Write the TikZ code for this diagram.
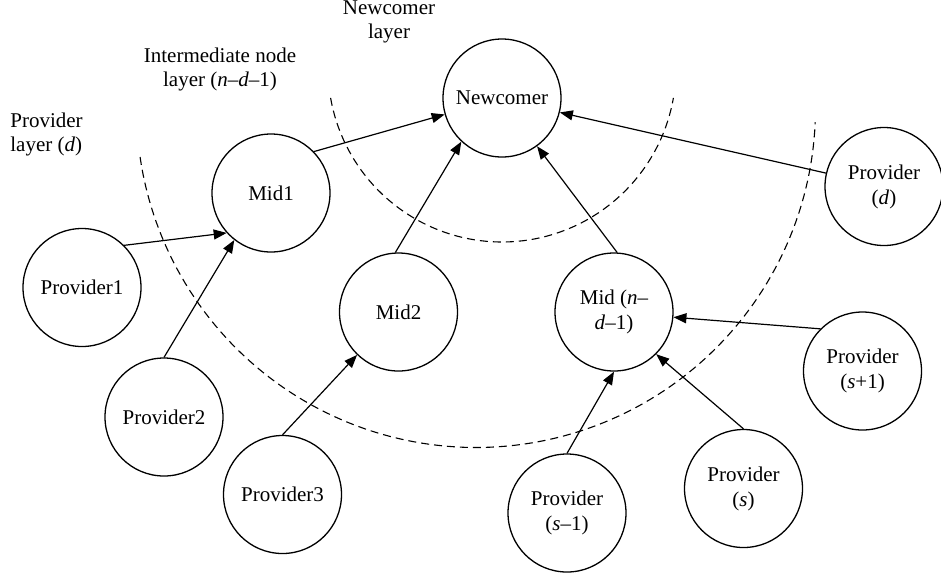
\documentclass[tikz,border=0pt]{standalone}
\usepackage{fontspec}
\setmainfont{Liberation Serif}
\usetikzlibrary{arrows.meta}
\begin{document}
\begin{tikzpicture}[x=0.5pt,y=-0.5pt,
  txt/.style={font=\fontsize{10.5}{12}\selectfont, align=center, inner sep=0pt},
  circ/.style={circle, draw, line width=0.65pt, minimum size=59pt, inner sep=0pt,
    font=\fontsize{10.5}{12.5}\selectfont, align=center},
  conn/.style={line width=0.6pt, -{Triangle[length=6.5pt,width=5pt]}},
  layer/.style={line width=0.55pt, dash pattern=on 4pt off 2.5pt}]
\useasboundingbox (0,0) rectangle (941,575);
% layer labels
\node[txt] (lnew) at (389,21.5) {Newcomer\\layer};
\node[txt] (lmid) at (220,69.5) {Intermediate node\\layer (\textit{n}–\textit{d}–1)};
\node[txt, align=left, anchor=west] (lprov) at (10,134.5) {Provider\\layer (\textit{d})};
% dashed layer boundaries
\coordinate (c1) at (502,68);
\coordinate (c2) at (476,108);
\draw[layer] plot[domain=170.1:9.9, samples=80] ({502+174*cos(\x)},{68+174*sin(\x)});
\draw[layer] plot[domain=171.7:2.4, samples=120] ({476+339.5*cos(\x)},{108+339.5*sin(\x)});
% nodes
\node[circ] (nc) at (502,98) {Newcomer};
\node[circ] (m1) at (271,193) {Mid1};
\node[circ] (m2) at (398.5,312) {Mid2};
\node[circ] (mn) at (614,312) {Mid (\textit{n}–\\\textit{d}–1)};
\node[circ] (pd) at (884,186.5) {Provider\\(\textit{d})};
\node[circ] (p1) at (82,287.5) {Provider1};
\node[circ] (p2) at (164,417) {Provider2};
\node[circ] (p3) at (282.5,494.5) {Provider3};
\node[circ] (psm) at (567,513) {Provider\\(\textit{s}–1)};
\node[circ] (ps) at (743.5,488.5) {Provider\\(\textit{s})};
\node[circ] (psp) at (862.5,371) {Provider\\(\textit{s}+1)};
% connectors
\draw[conn] (m1.44) -- (nc.196);
\draw[conn] (m2.93) -- (nc.227);
\draw[conn] (mn.87) -- (nc.306);
\draw[conn] (pd.167) -- (nc.346);
\draw[conn] (p1.45) -- (m1.222);
\draw[conn] (p2.90) -- (m1.232);
\draw[conn] (p3.90) -- (m2.226);
\draw[conn] (psm.90) -- (mn.270);
\draw[conn] (ps.90) -- (mn.315);
\draw[conn] (psp.135) -- (mn.355);
\end{tikzpicture}
\end{document}
